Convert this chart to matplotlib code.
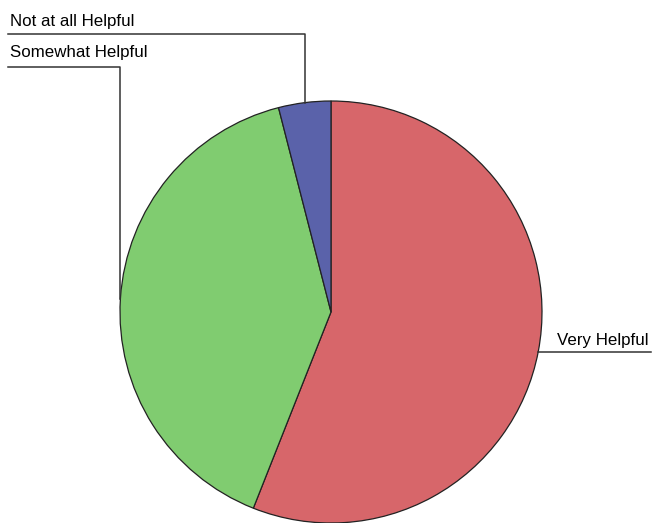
import numpy as np
import matplotlib.pyplot as plt

labels = ["Very Helpful", "Somewhat Helpful", "Not at all Helpful"]
values = [56, 40, 4]
colors = ["#D7666A", "#80CC70", "#5A62AA"]

W, H = 653, 523
plt.rcParams['font.family'] = ['Liberation Sans', 'DejaVu Sans']

fig = plt.figure(figsize=(W / 100, H / 100), dpi=100)
ax = fig.add_axes([0, 0, 1, 1])

# pie placed in pixel-like coords (y measured from top, flipped here)
cx, cy, r = 331, H - 312, 211
wedges, _ = ax.pie(values, colors=colors, startangle=90, counterclock=False,
                   center=(cx, cy), radius=r,
                   wedgeprops=dict(edgecolor='#222222', linewidth=0.9))

ax.set_xlim(0, W)
ax.set_ylim(0, H)
ax.set_aspect('equal')
ax.axis('off')

line_kw = dict(color='#333333', lw=1.1)

# leader lines go from the middle of each wedge to the label
for w, lab in zip(wedges, labels):
    mid = np.deg2rad((w.theta1 + w.theta2) / 2)
    px = cx + r * np.cos(mid)
    py = cy + r * np.sin(mid)
    if lab == "Very Helpful":
        ax.plot([px, 651], [py, py], **line_kw)
        ax.text(557, H - 345, lab, fontsize=12.2, va='baseline', ha='left')
    else:
        ly = H - (34 if lab == "Not at all Helpful" else 67)
        ty = H - (26 if lab == "Not at all Helpful" else 57)
        ax.plot([px, px, 8], [py, ly, ly], **line_kw)
        ax.text(10, ty, lab, fontsize=12.2, va='baseline', ha='left')

fig.savefig('out.png', dpi=100)
